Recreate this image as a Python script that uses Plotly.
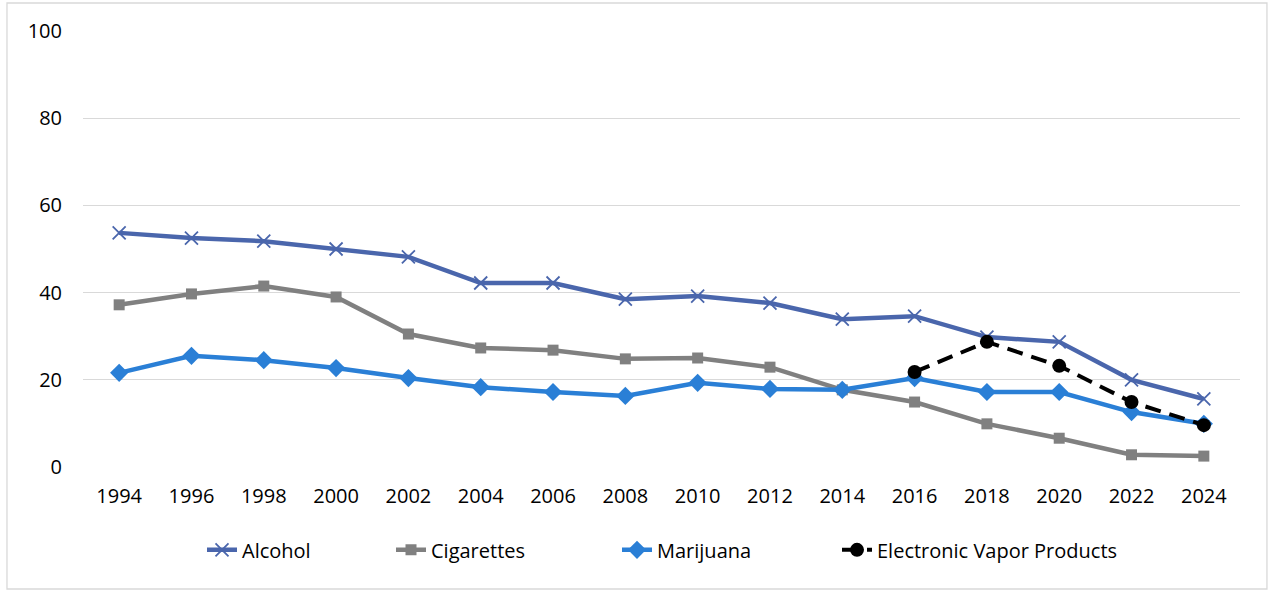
import plotly.graph_objects as go

years = ["1994", "1996", "1998", "2000", "2002", "2004", "2006", "2008",
         "2010", "2012", "2014", "2016", "2018", "2020", "2022", "2024"]
alcohol = [53.7, 52.5, 51.8, 50.0, 48.2, 42.2, 42.2, 38.5, 39.2, 37.6, 33.9, 34.6, 29.8, 28.7, 20.0, 15.6]
cigarettes = [37.2, 39.7, 41.5, 39.0, 30.5, 27.3, 26.8, 24.8, 25.0, 22.9, 17.7, 14.9, 9.9, 6.6, 2.8, 2.5]
marijuana = [21.6, 25.5, 24.5, 22.7, 20.4, 18.3, 17.2, 16.3, 19.3, 17.9, 17.7, 20.4, 17.2, 17.2, 12.6, 9.9]
vapor_years = ["2016", "2018", "2020", "2022", "2024"]
vapor = [21.8, 28.7, 23.2, 14.9, 9.6]

FONT = "Open Sans, Calibri, Carlito, Lato, sans-serif"

fig = go.Figure()
fig.add_trace(go.Scatter(x=years, y=alcohol, name="Alcohol", mode="lines+markers", legend="legend",
                         line=dict(color="#4A66AC", width=4.5),
                         marker=dict(symbol="x-thin", size=13, line=dict(color="#4A66AC", width=1.8))))
fig.add_trace(go.Scatter(x=years, y=cigarettes, name="Cigarettes", mode="lines+markers", legend="legend2",
                         line=dict(color="#808080", width=4.5),
                         marker=dict(symbol="square", size=11, color="#808080")))
fig.add_trace(go.Scatter(x=years, y=marijuana, name="Marijuana", mode="lines+markers", legend="legend3",
                         line=dict(color="#2A7FD6", width=4.5),
                         marker=dict(symbol="diamond", size=14, color="#2A7FD6")))
fig.add_trace(go.Scatter(x=vapor_years, y=vapor, name="Electronic Vapor Products", mode="lines+markers",
                         legend="legend4",
                         line=dict(color="#000000", width=4, dash="16px,9px"),
                         marker=dict(symbol="circle", size=14, color="#000000")))

PL, PW = 83, 1157


def leg(px):
    return dict(orientation="h", x=(px - PL) / PW, xanchor="left", y=-0.19, yanchor="middle",
                font=dict(size=20, family=FONT), bgcolor="rgba(0,0,0,0)")


fig.update_layout(
    width=1268, height=592,
    margin=dict(l=83, r=28, t=31, b=125),
    paper_bgcolor="white", plot_bgcolor="white",
    font=dict(family=FONT, size=20, color="#000000"),
    showlegend=True,
    legend=leg(202), legend2=leg(391), legend3=leg(617), legend4=leg(837),
    xaxis=dict(type="category", categoryorder="array", categoryarray=years,
               range=[-0.5, 15.5], showgrid=False, showline=False, ticks="",
               tickfont=dict(size=20), ticklabelstandoff=15),
    yaxis=dict(range=[0, 100], tickvals=[0, 20, 40, 60, 80, 100], showgrid=True,
               gridcolor="#D9D9D9", gridwidth=1.3, zeroline=False, showline=False,
               ticks="", tickfont=dict(size=20), ticklabelstandoff=20),
    shapes=[dict(type="rect", xref="paper", yref="paper",
                 x0=-0.0657, x1=1.0233, y0=-0.2798, y1=1.0642,
                 line=dict(color="#D9D9D9", width=1.3), layer="below")],
)

fig.write_html("out.html")
